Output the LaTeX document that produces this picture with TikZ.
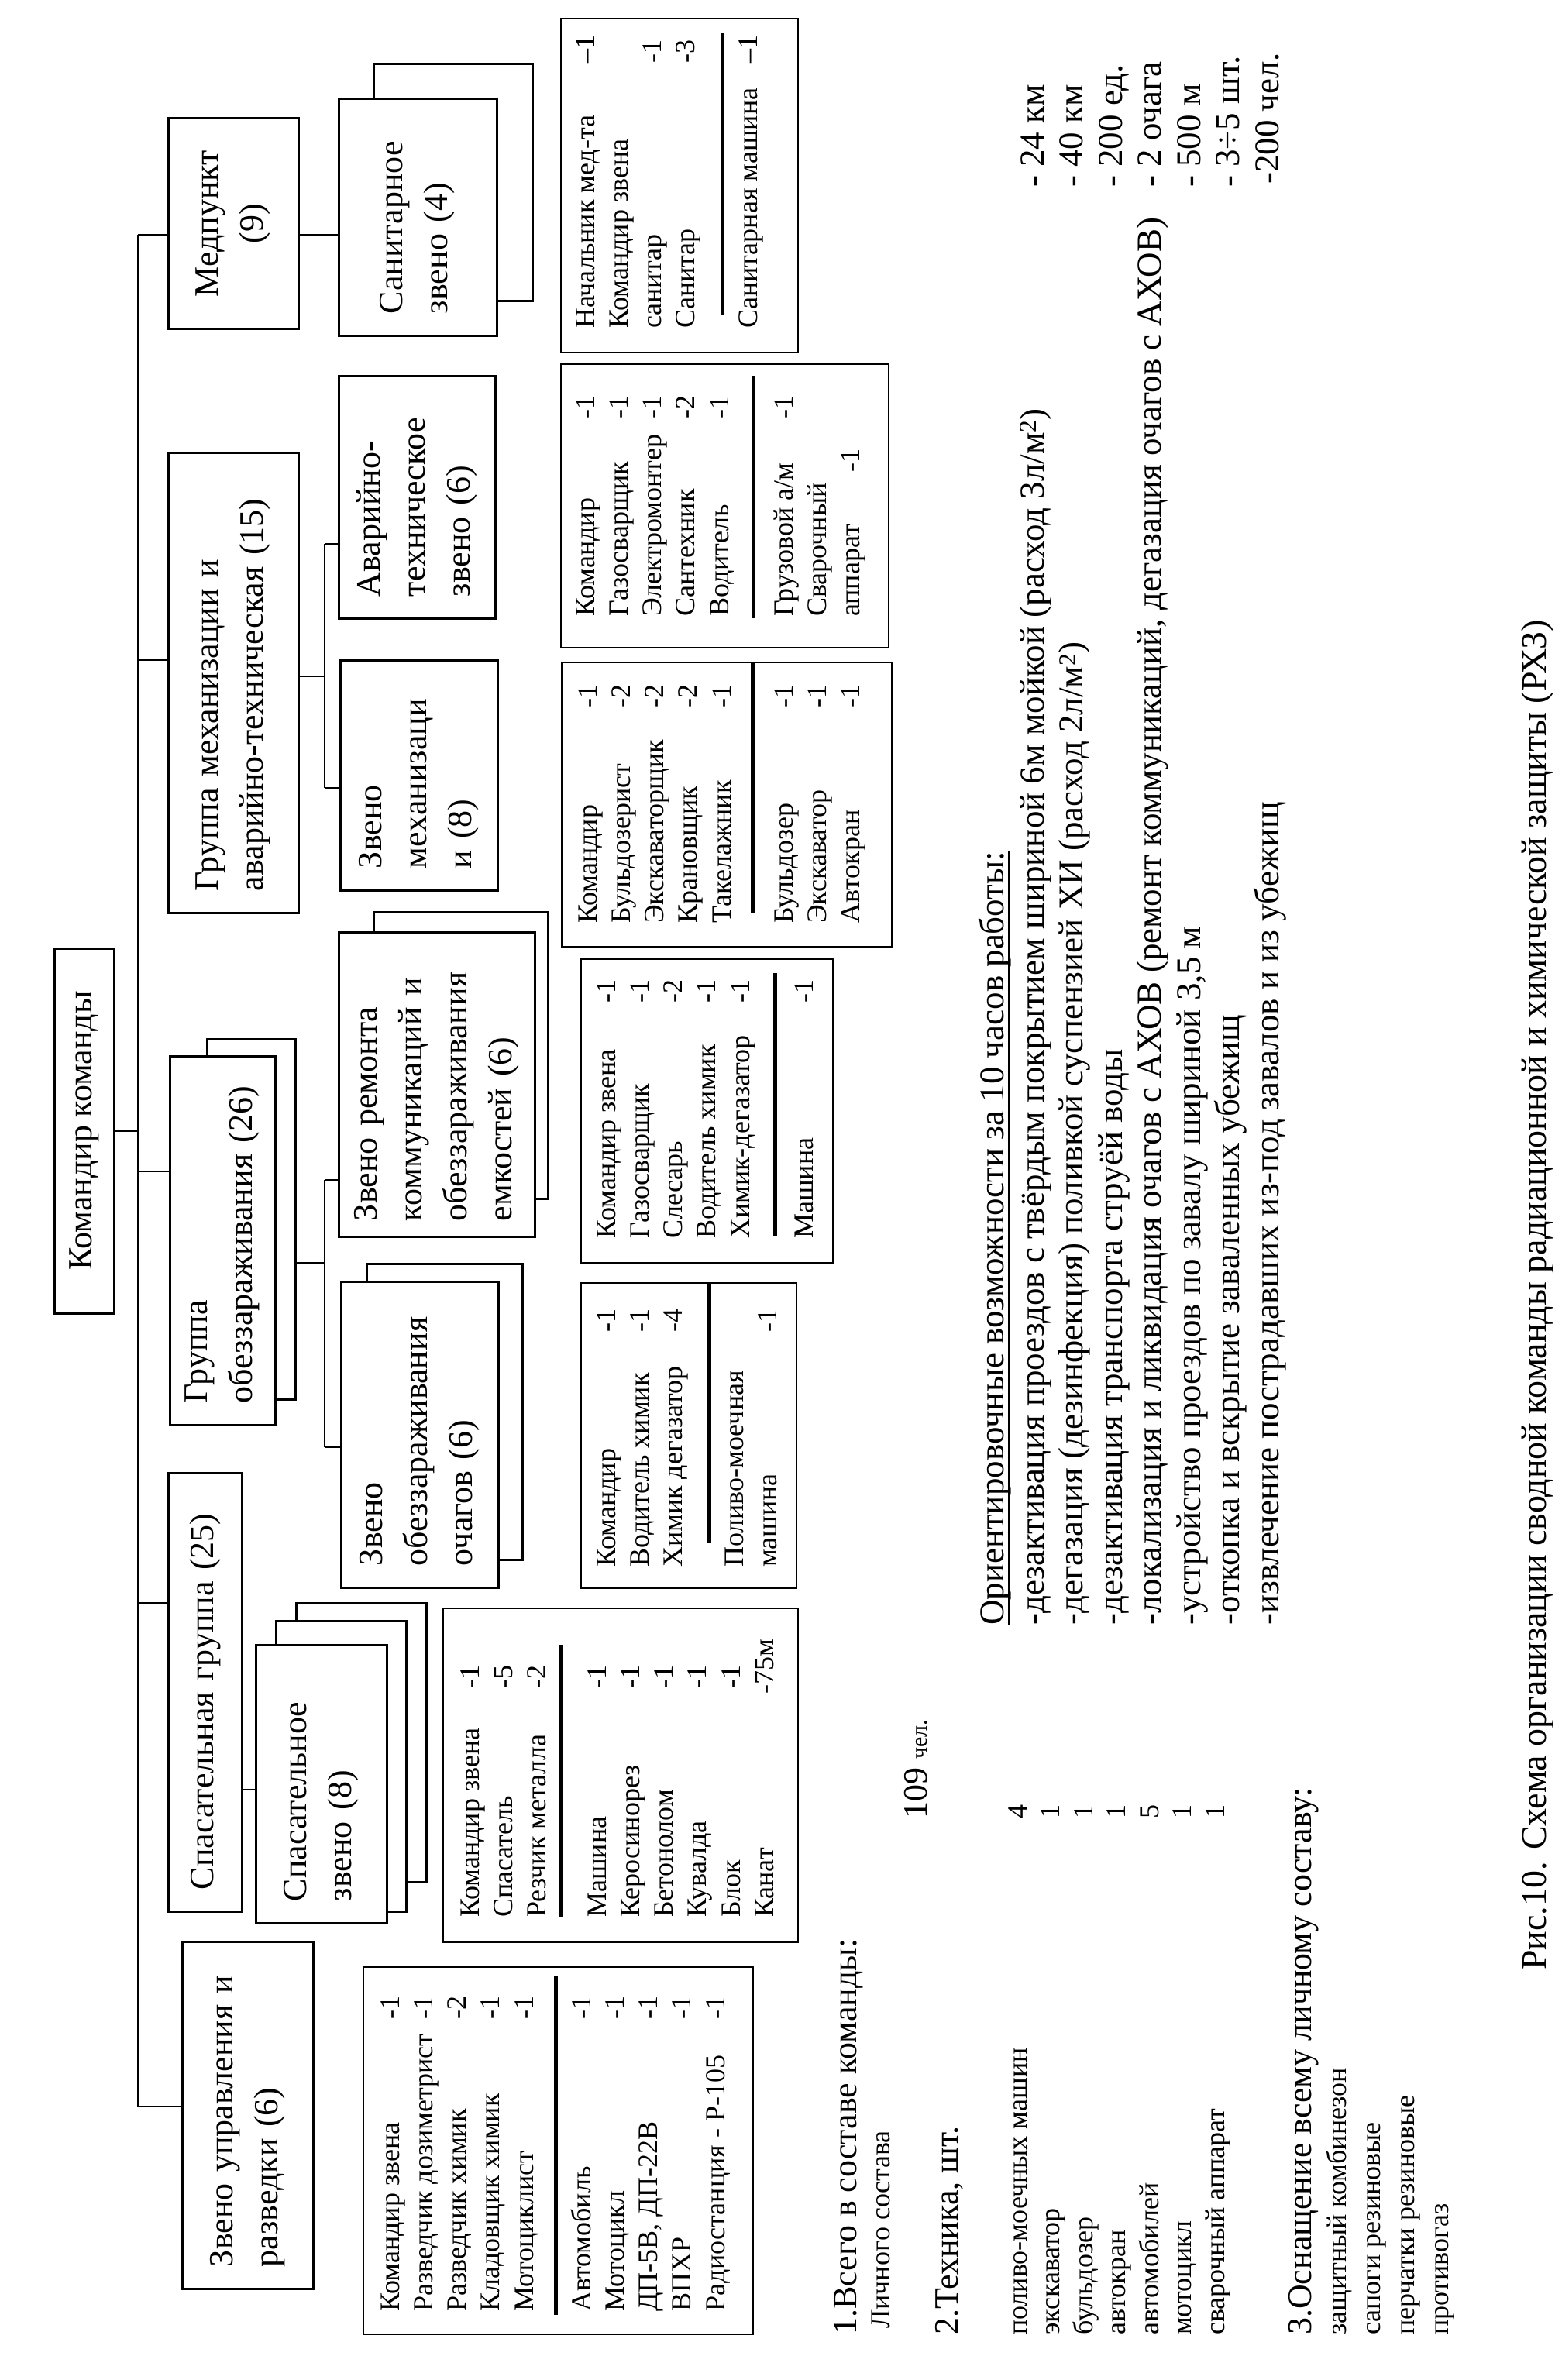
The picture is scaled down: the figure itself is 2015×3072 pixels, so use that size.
\documentclass[tikz,border=0pt]{standalone}
\usepackage{fontspec}
\setmainfont{Liberation Serif}
\newcommand{\lstrow}[3]{\makebox[#1][l]{#2}#3}
\newcommand{\ulx}[1]{\setbox0=\hbox{#1}\rlap{\vrule width\wd0 height -6pt depth 8.5pt}\box0}

\begin{document}
\begin{tikzpicture}[x=1pt,y=-1pt,
  grp/.style={draw,line width=3pt,fill=white,rotate=90,inner xsep=28pt,inner ysep=0pt,
              font=\fontsize{44}{58}\selectfont},
  lft/.style={align=left,text width=#1},
  ctr/.style={align=center},
  shd/.style={draw,line width=3pt,fill=white,inner sep=0pt},
  conn/.style={line width=2.5pt},
  frm/.style={line width=2.5pt},
  rul/.style={line width=5pt},
  lst/.style={rotate=90,anchor=base west,inner sep=0pt,font=\fontsize{36}{43.3}\selectfont},
  txt/.style={rotate=90,anchor=base west,inner sep=0pt,font=\fontsize{44}{50}\selectfont}]
\useasboundingbox (0,0) rectangle (2015,3072);

% top of the tree
\node[grp,ctr,minimum width=471pt,minimum height=77pt] (kom) at (108.5,1459.5) {Командир команды};

% groups
\node[shd,minimum width=114pt,minimum height=465pt] (grobez-s) at (324,1573.5) {};
\node[grp,ctr,minimum width=271pt,minimum height=168pt] (medp) at (301,288.5) {Медпункт\\(9)};
\node[grp,lft=538pt,minimum height=168pt] (grmech) at (301,881) {Группа механизации и\\аварийно-техническая (15)};
\node[grp,lft=420pt,minimum height=136pt] (grobez) at (287,1601) {Группа\\обеззараживания (26)};
\node[grp,lft=510pt,minimum height=95pt] (grspas) at (264.5,2184) {Спасательная группа (25)};
\node[grp,lft=392pt,minimum height=169pt] (zvupr) at (319.5,2730) {Звено управления и\\разведки (6)};

% units
\node[shd,minimum width=205pt,minimum height=305pt] (sanit-s) at (584.5,235.5) {};
\node[shd,minimum width=225pt,minimum height=370pt] (remont-s) at (594.5,1362) {};
\node[shd,minimum width=201pt,minimum height=382pt] (ochag-s) at (573.5,1822) {};
\node[shd,minimum width=168pt,minimum height=360pt] (spasz-s2) at (466,2249) {};
\node[shd,minimum width=168pt,minimum height=375pt] (spasz-s1) at (440,2279.5) {};
\node[grp,lft=249pt,minimum height=204pt] (sanit) at (539,280.5) {Санитарное\\звено (4)};
\node[grp,lft=257pt,minimum height=202pt] (avar) at (538,641.5) {Аварийно-\\техническое\\звено (6)};
\node[grp,lft=241pt,minimum height=203pt] (zvmech) at (540.5,1000.5) {Звено\\механизаци\\и (8)};
\node[grp,lft=353pt,inner xsep=20pt,minimum height=253pt] (remont) at (563.5,1399.5) {Звено ремонта\\коммуникаций и\\обеззараживания\\емкостей (6)};
\node[grp,lft=339pt,minimum height=203pt] (ochag) at (541.5,1851.5) {Звено\\обеззараживания\\очагов (6)};
\node[grp,lft=303pt,minimum height=169pt] (spasz) at (414.5,2302.5) {Спасательное\\звено (8)};

% connectors
\coordinate (tr1) at (178,303);
\coordinate (tr2) at (178,852);
\coordinate (tr3) at (178,1512);
\coordinate (tr4) at (178,2069);
\coordinate (tr5) at (178,2719);
\draw[conn] (tr1) -- (tr5);
\draw[conn] (kom.south) -- (kom.south -| tr1);
\foreach \t/\n in {tr1/medp,tr2/grmech,tr3/grobez,tr4/grspas,tr5/zvupr}
  \draw[conn] (\t) -- (\t -| \n.north);
\draw[conn] (tr1 -| medp.south) -- (tr1 -| sanit.north);
\coordinate (mj) at (419,873);
\coordinate (mj1) at (419,702);
\coordinate (mj2) at (419,1017);
\draw[conn] (mj -| grmech.south) -- (mj);
\draw[conn] (mj1) -- (mj2);
\draw[conn] (mj1) -- (mj1 -| avar.north);
\draw[conn] (mj2) -- (mj2 -| zvmech.north);
\coordinate (oj) at (419,1630);
\coordinate (oj1) at (419,1523);
\coordinate (oj2) at (419,1868);
\draw[conn] (oj -| grobez-s.east) -- (oj);
\draw[conn] (oj1) -- (oj2);
\draw[conn] (oj1) -- (oj1 -| remont.north);
\draw[conn] (oj2) -- (oj2 -| ochag.north);
\coordinate (sj) at (320,2310);
\draw[conn] (sj -| grspas.south) -- (sj -| spasz.north);

% staff lists
\draw[frm] (469,2539) rectangle (972,3013);
\node[lst] (zu-a) at (515,2984) {\begin{tabular}[t]{@{}l@{}}
  \lstrow{377pt}{Командир звена}{-1}\\ \lstrow{377pt}{Разведчик дозиметрист}{-1}\\
  \lstrow{377pt}{Разведчик химик}{-2}\\ \lstrow{377pt}{Кладовщик химик}{-1}\\
  \lstrow{377pt}{Мотоциклист}{-1}\end{tabular}};
\draw[rul] (717,2550) -- (717,2988);
\node[lst] (zu-b) at (762,2984) {\begin{tabular}[t]{@{}l@{}}
  \lstrow{377pt}{Автомобиль}{-1}\\ \lstrow{377pt}{Мотоцикл}{-1}\\
  \lstrow{377pt}{ДП-5В, ДП-22В}{-1}\\ \lstrow{377pt}{ВПХР}{-1}\\
  \lstrow{377pt}{Радиостанция - Р-105}{-1}\end{tabular}};

\draw[frm] (572,2076) rectangle (1030,2507);
\node[lst] (sp-a) at (618,2475) {\begin{tabular}[t]{@{}l@{}}
  \lstrow{295pt}{Командир звена}{-1}\\ \lstrow{295pt}{Спасатель}{-5}\\
  \lstrow{295pt}{Резчик металла}{-2}\end{tabular}};
\draw[rul] (724,2123) -- (724,2475);
\node[lst] (sp-b) at (782,2475) {\begin{tabular}[t]{@{}l@{}}
  \lstrow{295pt}{Машина}{-1}\\ \lstrow{295pt}{Керосинорез}{-1}\\
  \lstrow{295pt}{Бетонолом}{-1}\\ \lstrow{295pt}{Кувалда}{-1}\\
  \lstrow{295pt}{Блок}{-1}\\ \lstrow{288pt}{Канат}{-75м}\end{tabular}};

\draw[frm] (750,1656) rectangle (1028,2050);
\node[lst] (oc-a) at (794,2023) {\begin{tabular}[t]{@{}l@{}}
  \lstrow{303pt}{Командир}{-1}\\ \lstrow{303pt}{Водитель химик}{-1}\\
  \lstrow{303pt}{Химик дегазатор}{-4}\end{tabular}};
\draw[rul] (915,1656) -- (915,1992);
\node[lst] (oc-b) at (959,2023) {\begin{tabular}[t]{@{}l@{}}
  Поливо-моечная\\ \lstrow{303pt}{машина}{-1}\end{tabular}};

\draw[frm] (750,1238) rectangle (1075,1630);
\node[lst] (rm-a) at (794,1599) {\begin{tabular}[t]{@{}l@{}}
  \lstrow{304pt}{Командир звена}{-1}\\ \lstrow{304pt}{Газосварщик}{-1}\\
  \lstrow{304pt}{Слесарь}{-2}\\ \lstrow{304pt}{Водитель химик}{-1}\\
  \lstrow{304pt}{Химик-дегазатор}{-1}\end{tabular}};
\draw[rul] (1000,1256) -- (1000,1595);
\node[lst] (rm-b) at (1049,1599) {\lstrow{304pt}{Машина}{-1}};

\draw[frm] (725,855) rectangle (1151,1222);
\node[lst] (me-a) at (770,1192) {\begin{tabular}[t]{@{}l@{}}
  \lstrow{278pt}{Командир}{-1}\\ \lstrow{278pt}{Бульдозерист}{-2}\\
  \lstrow{278pt}{Экскаваторщик}{-2}\\ \lstrow{278pt}{Крановщик}{-2}\\
  \lstrow{278pt}{Такелажник}{-1}\end{tabular}};
\draw[rul] (971,855) -- (971,1178);
\node[lst] (me-b) at (1023,1192) {\begin{tabular}[t]{@{}l@{}}
  \lstrow{278pt}{Бульдозер}{-1}\\ \lstrow{278pt}{Экскаватор}{-1}\\
  \lstrow{278pt}{Автокран}{-1}\end{tabular}};

\draw[frm] (724,470) rectangle (1147,836);
\node[lst] (av-a) at (767,796) {\begin{tabular}[t]{@{}l@{}}
  \lstrow{255pt}{Командир}{-1}\\ \lstrow{255pt}{Газосварщик}{-1}\\
  \lstrow{255pt}{Электромонтер}{-1}\\ \lstrow{255pt}{Сантехник}{-2}\\
  \lstrow{255pt}{Водитель}{-1}\end{tabular}};
\draw[rul] (972,485) -- (972,798);
\node[lst] (av-b) at (1023,796) {\begin{tabular}[t]{@{}l@{}}
  \lstrow{255pt}{Грузовой а/м}{-1}\\ Сварочный\\
  \lstrow{186pt}{аппарат}{-1}\end{tabular}};

\draw[frm] (724,24) rectangle (1030,455);
\node[lst] (md-a) at (767,424) {\begin{tabular}[t]{@{}l@{}}
  \lstrow{342pt}{Начальник мед-та}{–1}\\ Командир звена\\
  \lstrow{342pt}{санитар}{-1}\\ \lstrow{342pt}{Санитар}{-3}\end{tabular}};
\draw[rul] (932,42) -- (932,406);
\node[lst] (md-b) at (977,424) {\lstrow{342pt}{Санитарная машина}{–1}};

% totals
\node[txt] (tot) at (1105,3014) {1.Всего в составе команды:};
\node[lst] (tot-p) at (1148,3006) {Личного состава};
\node[txt] (tot-n) at (1196,2348) {109 {\fontsize{30}{36}\selectfont чел.}};
\node[txt] (tech) at (1236,3014) {2.Техника, шт.};
\node[lst,font=\fontsize{36}{42.5}\selectfont] (tech-l) at (1325,3014) {\begin{tabular}[t]{@{}l@{}}
  \lstrow{666pt}{поливо-моечных машин}{4}\\ \lstrow{666pt}{экскаватор}{1}\\
  \lstrow{666pt}{бульдозер}{1}\\ \lstrow{666pt}{автокран}{1}\\
  \lstrow{666pt}{автомобилей}{5}\\ \lstrow{666pt}{мотоцикл}{1}\\
  \lstrow{666pt}{сварочный аппарат}{1}\end{tabular}};
\node[txt] (equip) at (1692,3014) {3.Оснащение всему личному составу:};
\node[lst,font=\fontsize{36}{44}\selectfont] (equip-l) at (1737,3014) {\begin{tabular}[t]{@{}l@{}}
  защитный комбинезон\\ сапоги резиновые\\ перчатки резиновые\\ противогаз\end{tabular}};

% capabilities
\node[txt,font=\fontsize{45}{50.5}\selectfont] (caps-h) at (1295,2098) {\ulx{Ориентировочные возможности за 10 часов работы:}};
\node[txt,font=\fontsize{45}{50.5}\selectfont] (caps-l) at (1347,2098) {\begin{tabular}[t]{@{}l@{}}
  \lstrow{1856pt}{-дезактивация проездов с твёрдым покрытием шириной 6м мойкой (расход 3л/м\textsuperscript{2})}{- 24 км}\\
  \lstrow{1856pt}{-дегазация (дезинфекция) поливкой суспензией ХИ (расход 2л/м\textsuperscript{2})}{- 40 км}\\
  \lstrow{1856pt}{-дезактивация транспорта струёй воды}{- 200 ед.}\\
  \lstrow{1856pt}{-локализация и ликвидация очагов с АХОВ (ремонт коммуникаций, дегазация очагов с АХОВ)}{- 2 очага}\\
  \lstrow{1856pt}{-устройство проездов по завалу шириной 3,5 м}{- 500 м}\\
  \lstrow{1856pt}{-откопка и вскрытие заваленных убежищ}{- 3÷5 шт.}\\
  \lstrow{1860pt}{-извлечение пострадавших из-под завалов и из убежищ}{-200 чел.}\end{tabular}};

\node[txt,font=\fontsize{46}{52}\selectfont] (cap) at (1995,2543) {Рис.10. Схема организации сводной команды радиационной и химической защиты (РХЗ)};
\end{tikzpicture}
\end{document}
